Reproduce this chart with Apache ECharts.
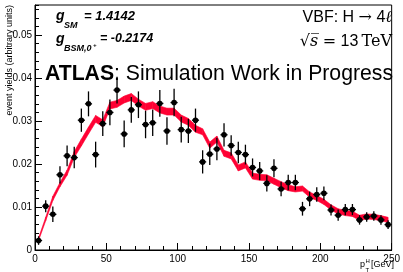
<!DOCTYPE html>
<html><head><meta charset="utf-8">
<script src="https://cdn.jsdelivr.net/npm/echarts@6/dist/echarts.min.js"></script>
<style>html,body{margin:0;padding:0;background:#fff}#c{width:403px;height:272px}</style>
</head><body><div id="c"></div>
<script>
const binCenters = [2.5,7.5,12.5,17.5,22.5,27.5,32.5,37.5,42.5,47.5,52.5,57.5,62.5,67.5,72.5,77.5,82.5,87.5,92.5,97.5,102.5,107.5,112.5,117.5,122.5,127.5,132.5,137.5,142.5,147.5,152.5,157.5,162.5,167.5,172.5,177.5,182.5,187.5,192.5,197.5,202.5,207.5,212.5,217.5,222.5,227.5,232.5,237.5,242.5,247.5];
const yieldValues = [0.0022,0.0102,0.0083,0.0175,0.0219,0.0215,0.0302,0.0340,0.0222,0.0294,0.0320,0.0372,0.0270,0.0326,0.0338,0.0292,0.0296,0.0341,0.0277,0.0343,0.0280,0.0277,0.0302,0.0205,0.0223,0.0235,0.0268,0.0243,0.0227,0.0222,0.0192,0.0184,0.0155,0.0190,0.0142,0.0157,0.0157,0.0096,0.0119,0.0129,0.0132,0.0093,0.0081,0.0094,0.0094,0.0070,0.0077,0.0079,0.0070,0.0059];
const yieldErrors = [0.0010,0.0014,0.0018,0.0020,0.0024,0.0025,0.0027,0.0029,0.0030,0.0029,0.0030,0.0031,0.0031,0.0030,0.0031,0.0032,0.0031,0.0031,0.0032,0.0032,0.0030,0.0028,0.0027,0.0027,0.0025,0.0026,0.0027,0.0024,0.0025,0.0023,0.0021,0.0021,0.0019,0.0021,0.0017,0.0018,0.0018,0.0016,0.0017,0.0017,0.0016,0.0013,0.0013,0.0013,0.0013,0.0011,0.0011,0.0011,0.0011,0.0010];
const bandCenter = [0.0025,0.0072,0.0120,0.0152,0.0180,0.0222,0.0250,0.0278,0.0305,0.0295,0.0336,0.0340,0.0350,0.0356,0.0343,0.0333,0.0337,0.0327,0.0322,0.0322,0.0306,0.0298,0.0282,0.0275,0.0244,0.0258,0.0225,0.0219,0.0191,0.0198,0.0172,0.0169,0.0168,0.0160,0.0152,0.0145,0.0141,0.0143,0.0129,0.0121,0.0112,0.0099,0.0090,0.0086,0.0084,0.0075,0.0078,0.0077,0.0074,0.0070];
const bandHalfWidth = [0.0003,0.0004,0.0005,0.0005,0.0006,0.0007,0.0008,0.0008,0.0008,0.0008,0.0008,0.0008,0.0008,0.0008,0.0008,0.0008,0.0008,0.0008,0.0008,0.0008,0.0008,0.0008,0.0008,0.0007,0.0007,0.0007,0.0007,0.0007,0.0007,0.0007,0.0007,0.0007,0.0007,0.0007,0.0007,0.0007,0.0006,0.0006,0.0006,0.0006,0.0006,0.0006,0.0006,0.0006,0.0006,0.0006,0.0006,0.0006,0.0006,0.0006];
const binHalfWidth = 2.5;
const xRange = [0, 250];
const yRange = [0, 0.057];

const bandData = binCenters.map((x, i) => [x, bandCenter[i] - bandHalfWidth[i], bandCenter[i] + bandHalfWidth[i]]);
const pointData = binCenters.map((x, i) => [x, yieldValues[i], yieldErrors[i]]);

const SANS = 'Liberation Sans, Arial, Helvetica, sans-serif';
const SERIF = 'DejaVu Serif, Liberation Serif, serif';
const chart = echarts.init(document.getElementById('c'), null, {renderer: 'canvas'});

function txt(x, y, text, font, align, extra) {
  return Object.assign({
    type: 'text', x: x, y: y, z: 100,
    style: {text: text, font: font, fill: '#000', textAlign: align || 'left', textVerticalAlign: 'middle', align: align || 'left', verticalAlign: 'middle'}
  }, extra || {});
}

const axisCommon = {
  axisLine: {show: true, lineStyle: {color: '#000', width: 1}},
  splitLine: {show: false},
};

chart.setOption({
  animation: false,
  backgroundColor: '#fff',
  grid: {left: 35, right: 7, top: 5, bottom: 22, show: true, borderColor: '#000', borderWidth: 1, backgroundColor: 'transparent'},
  xAxis: [
    Object.assign({type: 'value', min: xRange[0], max: xRange[1], interval: 50,
      axisTick: {inside: true, length: 7, lineStyle: {color: '#000'}},
      axisLabel: {color: '#000', fontSize: 10, fontFamily: SANS, margin: 4}}, axisCommon),
    {type: 'value', min: xRange[0], max: xRange[1], interval: 10, position: 'bottom',
      axisLine: {show: false}, splitLine: {show: false}, axisLabel: {show: false},
      axisTick: {inside: true, length: 4, lineStyle: {color: '#000'}}}
  ],
  yAxis: [
    Object.assign({type: 'value', min: yRange[0], max: yRange[1], interval: 0.01,
      axisTick: {inside: true, length: 7, lineStyle: {color: '#000'}},
      axisLabel: {color: '#000', fontSize: 10, fontFamily: SANS, margin: 3, showMaxLabel: false,
        formatter: v => v === 0 ? '0' : v.toFixed(2)}}, axisCommon),
    {type: 'value', min: yRange[0], max: yRange[1], interval: 0.002, position: 'left',
      axisLine: {show: false}, splitLine: {show: false}, axisLabel: {show: false},
      axisTick: {inside: true, length: 4, lineStyle: {color: '#000'}}}
  ],
  series: [
    {
      type: 'custom', name: 'band', data: bandData, z: 2,
      encode: {x: 0, y: [1, 2]},
      renderItem: function (params, api) {
        const i = params.dataIndex;
        if (i >= bandData.length - 1) return null;
        const a = bandData[i], b = bandData[i + 1];
        const p1 = api.coord([a[0], a[1]]), p2 = api.coord([b[0], b[1]]);
        const p3 = api.coord([b[0], b[2]]), p4 = api.coord([a[0], a[2]]);
        return {type: 'polygon', shape: {points: [p1, p2, p3, p4]},
          style: {fill: '#ff0033', stroke: '#ff0033', lineWidth: 0.6}};
      }
    },
    {
      type: 'custom', name: 'points', data: pointData, z: 3,
      encode: {x: 0, y: 1},
      renderItem: function (params, api) {
        const x = api.value(0), y = api.value(1), e = api.value(2);
        const c = api.coord([x, y]);
        const top = api.coord([x, y + e]), bot = api.coord([x, y - e]);
        const l = api.coord([x - binHalfWidth, y]), r = api.coord([x + binHalfWidth, y]);
        return {type: 'group', children: [
          {type: 'line', shape: {x1: top[0], y1: top[1], x2: bot[0], y2: bot[1]}, style: {stroke: '#000', lineWidth: 1.3}},
          {type: 'line', shape: {x1: l[0], y1: l[1], x2: r[0], y2: r[1]}, style: {stroke: '#000', lineWidth: 1.3}},
          {type: 'circle', shape: {cx: c[0], cy: c[1], r: 2.8}, style: {fill: '#000'}}
        ]};
      }
    }
  ],
  graphic: [
    txt(10, 5, 'event yields (arbitrary units)', '9px ' + SANS, 'right', {rotation: Math.PI / 2}),
    txt(56, 16.5, 'g', 'italic bold 14px ' + SANS),
    txt(64, 26, 'SM', 'italic bold 9px ' + SANS),
    txt(84, 16.5, '= 1.4142', 'italic bold 13px ' + SANS),
    txt(56, 39, 'g', 'italic bold 14px ' + SANS),
    txt(64, 49, 'BSM,0', 'italic bold 9px ' + SANS),
    txt(93, 45, '+', 'italic bold 6px ' + SANS),
    txt(100, 39, '= -0.2174', 'italic bold 12.5px ' + SANS),
    {type: 'text', x: 393, y: 73.5, z: 100, scaleX: 0.964,
      style: {text: '{b|ATLAS}: Simulation Work in Progress', font: '22px ' + SANS, fill: '#000',
        textAlign: 'right', align: 'right', textVerticalAlign: 'middle', verticalAlign: 'middle',
        rich: {b: {fontWeight: 'bold', fontSize: 22, fontFamily: SANS}}}},
    {type: 'text', x: 392, y: 18, z: 100,
      style: {text: 'VBF: H {a|→} 4{l|ℓ}', font: '16px ' + SANS, fill: '#000',
        textAlign: 'right', align: 'right', textVerticalAlign: 'middle', verticalAlign: 'middle',
        rich: {a: {fontFamily: SERIF, fontSize: 16}, l: {fontFamily: SERIF, fontStyle: 'italic', fontSize: 16}}}},
    {type: 'text', x: 392, y: 42, z: 100,
      style: {text: '{r|√}{i|s\u0305} {r|=} 13\u2009{r|TeV}', font: '16px ' + SANS, fill: '#000',
        textAlign: 'right', align: 'right', textVerticalAlign: 'middle', verticalAlign: 'middle',
        rich: {r: {fontFamily: SERIF, fontSize: 16}, i: {fontFamily: SERIF, fontStyle: 'italic', fontSize: 16}}}},
    txt(360, 265, 'p', '9px ' + SANS),
    txt(365.5, 261, 'H', '6px ' + SANS),
    txt(365.5, 270, 'T', '6px ' + SANS),
    txt(371, 265, '[GeV]', '9px ' + SANS)
  ]
});
</script></body></html>
